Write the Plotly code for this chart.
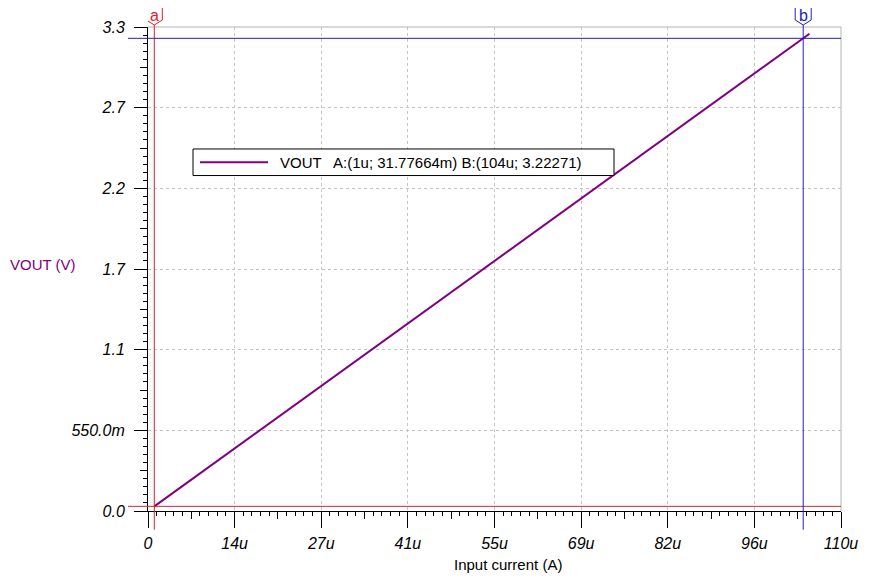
import plotly.graph_objects as go

# ---- data (x in micro-amps, y in volts) ----
x_current_u = [1, 14, 27, 41, 55, 69, 82, 96, 104, 105]
vout = [0.0317664, 0.4345, 0.8372, 1.2710, 1.7047, 2.1384, 2.5412, 2.9749, 3.22271, 3.2537]

x_tickvals = [0, 13.75, 27.5, 41.25, 55, 68.75, 82.5, 96.25, 110]
x_ticktext = ["0", "14u", "27u", "41u", "55u", "69u", "82u", "96u", "110u"]
y_tickvals = [0, 0.55, 1.1, 1.65, 2.2, 2.75, 3.3]
y_ticktext = ["0.0", "550.0m", "1.1", "1.7", "2.2", "2.7", "3.3"]

cursor_a = (1, 0.0317664)
cursor_b = (104, 3.22271)
legend_text = "VOUT   A:(1u; 31.77664m) B:(104u; 3.22271)"

PURPLE = "#800080"
RED = "#e0202a"
BLUE = "#2020c0"
FONT = "Liberation Sans, Arial, sans-serif"

# page body has an 8px margin; compensate so the plot lands at the target pixels
OFF = 8
W, H = 870 - OFF, 584 - OFF
PL, PR, PT, PB = 148, 841, 19, 511          # target plot-area pixel box in the window
L, R, T, B = PL - OFF, W + OFF - PR, PT - OFF, H + OFF - PB
PW, PH = PR - PL, PB - PT


def px(xp):
    return (xp - PL) / PW


def py(yp):
    return (PB - yp) / PH


fig = go.Figure()
fig.add_trace(go.Scatter(x=x_current_u, y=vout, mode="lines",
                         line=dict(color=PURPLE, width=2), showlegend=False,
                         hoverinfo="skip"))
# invisible trace for the overlay (medium tick) axes
fig.add_trace(go.Scatter(x=[None], y=[None], xaxis="x2", yaxis="y2",
                         showlegend=False, hoverinfo="skip"))

tickfont = dict(family=FONT, size=16, color="black", style="italic")
xmid = [(x_tickvals[i] + x_tickvals[i + 1]) / 2 for i in range(len(x_tickvals) - 1)]
ymid = [(y_tickvals[i] + y_tickvals[i + 1]) / 2 for i in range(len(y_tickvals) - 1)]

fig.update_layout(
    width=W, height=H, autosize=False,
    margin=dict(l=L, r=R, t=T, b=B),
    paper_bgcolor="white", plot_bgcolor="white",
    showlegend=False,
    xaxis=dict(range=[0, 110], tickmode="array", tickvals=x_tickvals, ticktext=x_ticktext,
               ticks="outside", ticklen=16, tickwidth=1, tickcolor="black",
               showline=True, linecolor="black", linewidth=1,
               showgrid=True, gridcolor="#c4c4c4", griddash="3px,3px", gridwidth=1,
               zeroline=False, tickfont=tickfont, ticklabelstandoff=2,
               minor=dict(dtick=1.375, tick0=0, ticks="outside", ticklen=4,
                          tickcolor="black", showgrid=False),
               fixedrange=True),
    yaxis=dict(range=[0, 3.3], tickmode="array", tickvals=y_tickvals, ticktext=y_ticktext,
               ticks="outside", ticklen=13, tickwidth=1, tickcolor="black",
               showline=True, linecolor="black", linewidth=1,
               showgrid=True, gridcolor="#c4c4c4", griddash="3px,3px", gridwidth=1,
               zeroline=False, tickfont=tickfont, ticklabelstandoff=6,
               minor=dict(dtick=0.055, tick0=0, ticks="outside", ticklen=4,
                          tickcolor="black", showgrid=False),
               fixedrange=True),
    xaxis2=dict(range=[0, 110], overlaying="x", anchor="y2", side="bottom",
                tickmode="array", tickvals=xmid, ticks="outside", ticklen=7,
                tickcolor="black", showticklabels=False, showgrid=False,
                showline=False, zeroline=False, fixedrange=True),
    yaxis2=dict(range=[0, 3.3], overlaying="y", anchor="x2", side="left",
                tickmode="array", tickvals=ymid, ticks="outside", ticklen=7,
                tickcolor="black", showticklabels=False, showgrid=False,
                showline=False, zeroline=False, fixedrange=True),
)

shapes = []
# top and right border (light gray)
shapes.append(dict(type="line", xref="paper", yref="paper", x0=0, x1=1, y0=1, y1=1,
                   line=dict(color="#b4b4b4", width=1)))
shapes.append(dict(type="line", xref="paper", yref="paper", x0=1, x1=1, y0=0, y1=1,
                   line=dict(color="#b4b4b4", width=1)))

for (cx, cy), col in ((cursor_a, RED), (cursor_b, BLUE)):
    # horizontal cursor line
    shapes.append(dict(type="line", xref="paper", yref="y", x0=px(128), x1=1, y0=cy, y1=cy,
                       line=dict(color=col, width=1)))
    # vertical cursor line
    shapes.append(dict(type="line", xref="x", yref="paper", x0=cx, x1=cx,
                       y0=py(530), y1=py(17), line=dict(color=col, width=1)))
    # label tag
    shapes.append(dict(type="path", xref="x", yref="paper", xsizemode="pixel",
                       ysizemode="pixel", xanchor=cx, yanchor=1,
                       path="M-8,22 L8,22 L8,7 L0,2 L-8,7 Z",
                       fillcolor="white", line=dict(color=col, width=1)))

# legend box
shapes.append(dict(type="rect", xref="paper", yref="paper", x0=px(193), x1=px(614),
                   y0=py(170), y1=py(143), fillcolor="white",
                   line=dict(color="black", width=1)))
shapes.append(dict(type="line", xref="paper", yref="paper", x0=px(200), x1=px(268),
                   y0=py(156.5), y1=py(156.5), line=dict(color=PURPLE, width=2)))
fig.update_layout(shapes=shapes)

ann = []
for (cx, cy), col, lab in ((cursor_a, RED, "a"), (cursor_b, BLUE, "b")):
    ann.append(dict(x=cx, y=1, xref="x", yref="paper", text=lab, showarrow=False,
                    xanchor="center", yanchor="middle", yshift=12,
                    font=dict(family=FONT, size=16, color=col)))
ann.append(dict(x=px(278), y=py(156.5), xref="paper", yref="paper", text=legend_text,
                showarrow=False, xanchor="left", yanchor="middle",
                font=dict(family=FONT, size=15, color="black")))
ann.append(dict(x=px(8), y=py(260), xref="paper", yref="paper", text="VOUT (V)",
                showarrow=False, xanchor="left", yanchor="middle",
                font=dict(family=FONT, size=15, color=PURPLE)))
ann.append(dict(x=px(508), y=py(565), xref="paper", yref="paper", text="Input current (A)",
                showarrow=False, xanchor="center", yanchor="middle",
                font=dict(family=FONT, size=15, color="black")))
fig.update_layout(annotations=ann)

fig.write_html("out.html")
